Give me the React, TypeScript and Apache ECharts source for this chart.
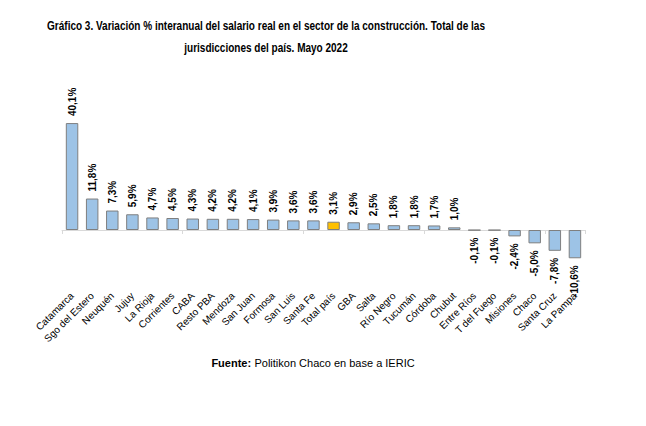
import React, { useEffect, useRef } from "react";
import * as echarts from "echarts";

const categories = [
  "Catamarca", "Sgo del Estero", "Neuquén", "Jujuy", "La Rioja", "Corrientes", "CABA",
  "Resto PBA", "Mendoza", "San Juan", "Formosa", "San Luis", "Santa Fe", "Total país",
  "GBA", "Salta", "Río Negro", "Tucumán", "Córdoba", "Chubut", "Entre Ríos", "T del Fuego",
  "Misiones", "Chaco", "Santa Cruz", "La Pampa",
];
const values = [
  40.1, 11.8, 7.3, 5.9, 4.7, 4.5, 4.3, 4.2, 4.2, 4.1, 3.9, 3.6, 3.6, 3.1,
  2.9, 2.5, 1.8, 1.8, 1.7, 1.0, -0.1, -0.1, -2.4, -5.0, -7.8, -10.6,
];
const highlight = "Total país";

const titleLine1 = "Gráfico 3. Variación % interanual del salario real en el sector de la construcción. Total de las";
const titleLine2 = "jurisdicciones del país. Mayo 2022";

export default function App() {
  const ref = useRef<HTMLDivElement>(null);
  useEffect(() => {
    document.body.style.margin = "0";
    const chart = echarts.init(ref.current!, null, { renderer: "svg" });
    const fmt = (v: number) => v.toFixed(1).replace(".", ",") + "%";
    const data = values.map((v, i) => {
      const item: any = {
        value: v,
        itemStyle: {
          color: categories[i] === highlight ? "#FFC000" : "#9DC3E6",
        },
      };
      if (v < 0) {
        item.label = { position: "bottom", align: "right" };
      }
      return item;
    });
    const titleFont = "bold 13px 'Liberation Sans', Arial, sans-serif";
    chart.setOption({
      animation: false,
      backgroundColor: "#ffffff",
      graphic: [
        {
          type: "text",
          x: 266,
          y: 25,
          scaleX: 0.77,
          style: {
            text: titleLine1,
            font: titleFont,
            fill: "#000",
            align: "center",
            verticalAlign: "middle",
          },
        },
        {
          type: "text",
          x: 266,
          y: 47,
          scaleX: 0.77,
          style: {
            text: titleLine2,
            font: titleFont,
            fill: "#000",
            align: "center",
            verticalAlign: "middle",
          },
        },
        {
          type: "text",
          x: 313,
          y: 363,
          style: {
            text: "{b|Fuente:} {n|Politikon Chaco en base a IERIC}",
            align: "center",
            verticalAlign: "middle",
            rich: {
              b: { font: "bold 11px 'Liberation Sans', Arial, sans-serif", fill: "#000" },
              n: { font: "11px 'Liberation Sans', Arial, sans-serif", fill: "#000" },
            },
          },
        },
      ],
      grid: { left: 62, right: 61, top: 110, bottom: 156, containLabel: false },
      xAxis: [
        {
          type: "category",
          data: categories,
          axisLine: { onZero: true, lineStyle: { color: "#d9d9d9", width: 1 } },
          axisTick: { show: true, length: 4, lineStyle: { color: "#d9d9d9" } },
          axisLabel: { show: false },
        },
        {
          type: "category",
          data: categories,
          position: "bottom",
          axisLine: { show: false },
          axisTick: { show: false },
          axisLabel: {
            interval: 0,
            rotate: 45,
            margin: 24,
            fontSize: 10,
            color: "#000",
            fontFamily: "'Liberation Sans', Arial, sans-serif",
          },
        },
      ],
      yAxis: {
        type: "value",
        min: -15,
        max: 45,
        show: false,
        splitLine: { show: false },
      },
      series: [
        {
          type: "bar",
          xAxisIndex: 0,
          data,
          barWidth: "62%",
          itemStyle: { borderColor: "#7f7f7f", borderWidth: 1 },
          label: {
            show: true,
            position: "top",
            rotate: 90,
            align: "left",
            verticalAlign: "middle",
            distance: 7,
            formatter: (p: any) => fmt(p.value),
            fontSize: 10,
            fontWeight: "bold",
            color: "#000",
            fontFamily: "'Liberation Sans', Arial, sans-serif",
          },
        },
      ],
    });
    return () => chart.dispose();
  }, []);
  return <div ref={ref} style={{ width: 646, height: 426 }} />;
}
